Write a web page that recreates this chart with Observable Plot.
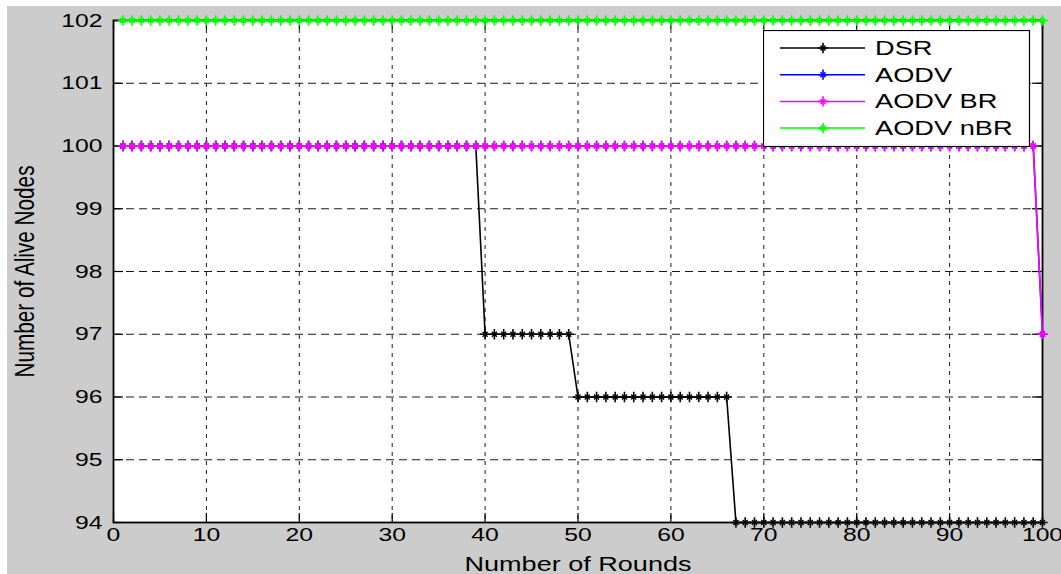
<!DOCTYPE html>
<html><head><meta charset="utf-8">
<script src="https://cdn.jsdelivr.net/npm/d3@7"></script>
<script src="https://cdn.jsdelivr.net/npm/@observablehq/plot@0.6"></script>
<style>
html,body{margin:0;padding:0;background:#fff;}
#fig{position:absolute;left:7px;top:6px;width:1054px;height:568px;background:#cccccc;overflow:hidden;}
#legend{position:absolute;left:756px;top:24px;}
</style></head><body><div id="fig"></div>
<script>
// ---- data ----
const seriesNames = ["DSR", "AODV", "AODV BR", "AODV nBR"];
const seriesColors = ["#000000", "#0000ff", "#ff00ff", "#00ff00"];
const firstRound = 1, lastRound = 100;
// step data: [first round of the level, number of alive nodes]
const dsrSteps = [[1, 100], [40, 97], [50, 96], [67, 94]];
const aodvSteps = [[1, 100], [100, 97]];
const aodvBrSteps = [[1, 100], [100, 97]];
const aodvNbrSteps = [[1, 102]];
const xTicks = [0, 10, 20, 30, 40, 50, 60, 70, 80, 90, 100];
const yTicks = [94, 95, 96, 97, 98, 99, 100, 101, 102];
const xLabel = "Number of Rounds";
const yLabel = "Number of Alive Nodes";

const allSteps = [dsrSteps, aodvSteps, aodvBrSteps, aodvNbrSteps];
const rounds = d3.range(firstRound, lastRound + 1);
function expand(steps, name) {
  return rounds.map(r => {
    let v = steps[0][1];
    for (const [start, val] of steps) if (r >= start) v = val;
    return {series: name, round: r, value: v};
  });
}
const seriesData = allSteps.map((s, i) => expand(s, seriesNames[i]));

const xGrid = xTicks.slice(1, -1);
const yGrid = yTicks.slice(1, -1);

const plusR = 3.4, timesR = 2.4;
const seriesMarks = seriesData.flatMap((rows, i) => [
  Plot.line(rows, {x: "round", y: "value", stroke: seriesColors[i], strokeWidth: 1.6}),
  Plot.dot(rows, {x: "round", y: "value", symbol: "plus", r: plusR, stroke: seriesColors[i], strokeWidth: 1.6}),
  Plot.dot(rows, {x: "round", y: "value", symbol: "times", r: timesR, stroke: seriesColors[i], strokeWidth: 1.4})
]);

const chart = Plot.plot({
  width: 1054, height: 568,
  marginLeft: 106, marginTop: 14, marginRight: 19, marginBottom: 52,
  x: {domain: [0, 100]},
  y: {domain: [94, 102]},
  style: {background: "transparent", fontFamily: "'Liberation Sans', Arial, sans-serif", fontSize: "19px", color: "#000", overflow: "visible"},
  marks: [
    Plot.frame({fill: "white", stroke: "none"}),
    Plot.ruleX(xGrid, {stroke: "#1a1a1a", strokeWidth: 1, strokeDasharray: "4,5"}),
    Plot.ruleY(yGrid, {stroke: "#1a1a1a", strokeWidth: 1, strokeDasharray: "8,5"}),
    Plot.ruleX(xTicks, {insetTop: 493, stroke: "#000", strokeWidth: 1.2}),
    Plot.ruleX(xTicks, {insetBottom: 493, stroke: "#000", strokeWidth: 1.2}),
    Plot.ruleY(yTicks, {insetRight: 919, stroke: "#000", strokeWidth: 1.2}),
    Plot.ruleY(yTicks, {insetLeft: 919, stroke: "#000", strokeWidth: 1.2}),
    Plot.frame({stroke: "#000", strokeWidth: 1.8}),
    Plot.axisX({ticks: xTicks, tickFormat: d => String(d), tickSize: 0, tickPadding: 5,
      label: xLabel, labelAnchor: "center", labelOffset: 48, labelArrow: "none"}),
    Plot.axisY({ticks: yTicks, tickFormat: d => String(d), tickSize: 0, tickPadding: 11,
      label: yLabel, labelAnchor: "center", labelOffset: 99, labelArrow: "none"}),
    ...seriesMarks
  ]
});
const fig = document.getElementById("fig");
fig.append(chart);

function stretch(sel, k) {
  sel.each(function () {
    const L = this.getComputedTextLength();
    this.setAttribute("textLength", (L * k).toFixed(1));
    this.setAttribute("lengthAdjust", "spacingAndGlyphs");
  });
}
const sv = d3.select(chart);
stretch(sv.selectAll('[aria-label="x-axis tick label"] text, [aria-label="y-axis tick label"] text'), 1.3);
sv.selectAll('[aria-label="x-axis label"] text').attr("font-size", 21).each(function () {
  this.setAttribute("textLength", 227); this.setAttribute("lengthAdjust", "spacingAndGlyphs");
});
sv.selectAll('[aria-label="y-axis label"] text').attr("font-size", 27).each(function () {
  this.setAttribute("textLength", 212); this.setAttribute("lengthAdjust", "spacingAndGlyphs");
});

// ---- legend (inside the plot, top right) ----
const lg = d3.select(fig).append("svg").attr("id", "legend")
  .attr("width", 268).attr("height", 118)
  .style("font-family", "'Liberation Sans', Arial, sans-serif");
lg.append("rect").attr("x", 0.5).attr("y", 0.5).attr("width", 266).attr("height", 116)
  .attr("fill", "white").attr("stroke", "black").attr("stroke-width", 1.2);
const plusPath = d3.symbol(d3.symbolPlus, Math.PI * plusR * plusR)();
const timesPath = d3.symbol(d3.symbolTimes, Math.PI * timesR * timesR)();
seriesNames.forEach((name, i) => {
  const cy = 18 + i * 26.7;
  const g = lg.append("g");
  g.append("line").attr("x1", 17).attr("x2", 102).attr("y1", cy).attr("y2", cy)
    .attr("stroke", seriesColors[i]).attr("stroke-width", 1.5);
  g.append("path").attr("d", plusPath).attr("transform", `translate(60,${cy})`)
    .attr("stroke", seriesColors[i]).attr("stroke-width", 1.6).attr("fill", "none");
  g.append("path").attr("d", timesPath).attr("transform", `translate(60,${cy})`)
    .attr("stroke", seriesColors[i]).attr("stroke-width", 1.4).attr("fill", "none");
  const t = g.append("text").attr("x", 112).attr("y", cy).attr("dy", "0.35em")
    .attr("font-size", 20).attr("fill", "#000").text(name);
  stretch(t, 1.36);
});
</script>
</body></html>
